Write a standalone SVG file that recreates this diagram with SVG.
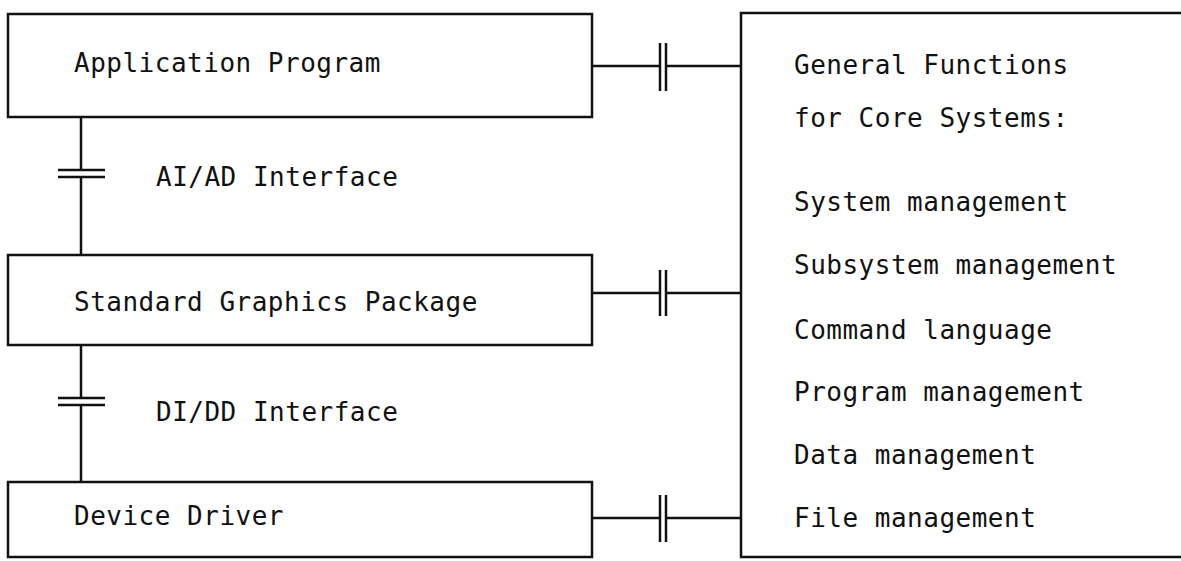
<svg xmlns="http://www.w3.org/2000/svg" width="1181" height="561" viewBox="0 0 1181 561">
<style>
.box{fill:none;stroke:#111;stroke-width:2.5}
.ln{fill:none;stroke:#111;stroke-width:2.5}
.t{font-family:"DejaVu Sans Mono","Liberation Mono",monospace;font-size:26px;letter-spacing:0.5px;fill:#111}
</style>
<rect width="1181" height="561" fill="#fff"/>
<g id="app"><rect class="box" x="8" y="14" width="584" height="103"/><text class="t" x="74" y="72">Application Program</text></g>
<g id="sgp"><rect class="box" x="8" y="255" width="584" height="90"/><text class="t" x="74" y="311">Standard Graphics Package</text></g>
<g id="dd"><rect class="box" x="8" y="482" width="584" height="75"/><text class="t" x="74" y="525">Device Driver</text></g>
<g id="gf"><path class="box" d="M1185,13 H741 V557 H1185"/>
<text class="t" x="794" y="74">General Functions</text>
<text class="t" x="794" y="127">for Core Systems:</text>
<text class="t" x="794" y="211">System management</text>
<text class="t" x="794" y="274">Subsystem management</text>
<text class="t" x="794" y="339">Command language</text>
<text class="t" x="794" y="401">Program management</text>
<text class="t" x="794" y="464">Data management</text>
<text class="t" x="794" y="527">File management</text>
</g>
<g id="aiad"><text class="t" x="156" y="186">AI/AD Interface</text></g>
<g id="didd"><text class="t" x="156" y="421">DI/DD Interface</text></g>
<g id="connectors">
<path class="ln" d="M81,117 V170 M81,177 V255 M58,170 H105 M58,177 H105"/>
<path class="ln" d="M81,345 V398 M81,405 V482 M58,398 H105 M58,405 H105"/>
<path class="ln" d="M592,66 H660 M666,66 H741 M660,43 V91 M666,43 V91"/>
<path class="ln" d="M592,293 H660 M666,293 H741 M660,270 V316 M666,270 V316"/>
<path class="ln" d="M592,518 H660 M666,518 H741 M660,495 V542 M666,495 V542"/>
</g>
</svg>
